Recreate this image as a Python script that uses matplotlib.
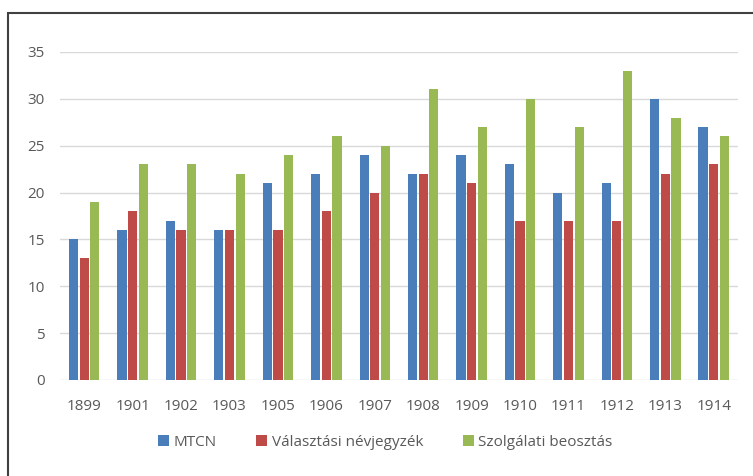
import numpy as np
import matplotlib.pyplot as plt
from matplotlib.patches import Rectangle

years = ['1899', '1901', '1902', '1903', '1905', '1906', '1907',
         '1908', '1909', '1910', '1911', '1912', '1913', '1914']
mtcn = [15, 16, 17, 16, 21, 22, 24, 22, 24, 23, 20, 21, 30, 27]
valasztasi = [13, 18, 16, 16, 16, 18, 20, 22, 21, 17, 17, 17, 22, 23]
szolgalati = [19, 23, 23, 22, 24, 26, 25, 31, 27, 30, 27, 33, 28, 26]

series = [('MTCN', mtcn, '#4a7ebb'),
          ('Választási névjegyzék', valasztasi, '#be4b48'),
          ('Szolgálati beosztás', szolgalati, '#98b954')]

plt.rcParams['font.family'] = ['Open Sans', 'DejaVu Sans']

fig = plt.figure(figsize=(7.53, 4.76), dpi=100)
ax = fig.add_axes([0.0797, 0.2017, 0.9003, 0.6891])

x = np.arange(len(years))
w = 0.19
offs = [-0.22, 0.0, 0.22]
for (name, vals, col), o in zip(series, offs):
    ax.bar(x + o, vals, w, color=col, label=name, zorder=3)

ax.set_xlim(-0.5, len(years) - 0.5)
ax.set_ylim(0, 35)
ax.set_yticks(range(0, 36, 5))
ax.set_xticks(x)
ax.set_xticklabels(years)
ax.tick_params(length=0, labelsize=11, colors='#595959')
ax.tick_params(axis='x', pad=14)
ax.tick_params(axis='y', pad=11)
ax.grid(axis='y', color='#d9d9d9', linewidth=1, zorder=0)
for s in ax.spines.values():
    s.set_visible(False)

ax.legend(loc='center', bbox_to_anchor=(0.48, -0.19), ncol=3, frameon=False,
          fontsize=11, handlelength=0.7, handleheight=0.7, handletextpad=0.3,
          columnspacing=2.6, labelcolor='#595959')

# outer frame of the cropped chart
fig.patches.append(Rectangle((8 / 753, -0.1), 1.2, 1 - 13 / 476 + 0.1,
                             transform=fig.transFigure, fill=False,
                             edgecolor='#404040', linewidth=1.5))

fig.savefig('out.png', dpi=100)
